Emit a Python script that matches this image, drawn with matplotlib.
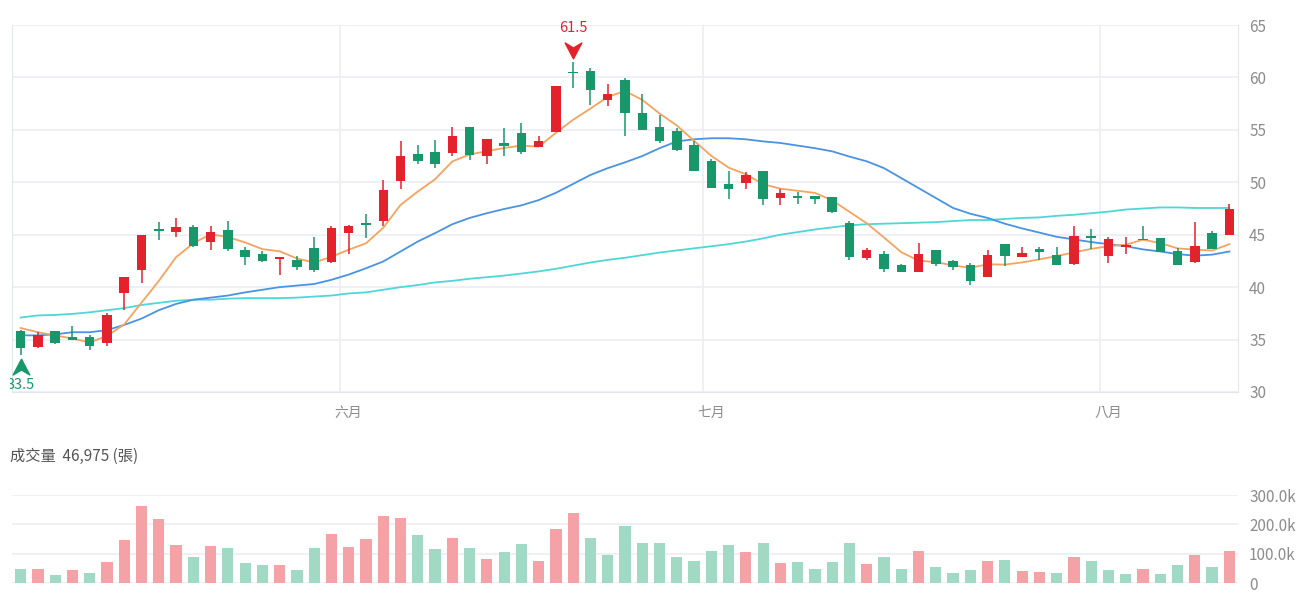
import matplotlib
matplotlib.use('Agg')
import matplotlib.pyplot as plt
import numpy as np
import pandas as pd
from matplotlib.path import Path
from matplotlib.transforms import Bbox

plt.rcParams['font.family'] = ['Noto Sans CJK TC', 'DejaVu Sans']

# daily OHLC
opens = [35.8, 34.3, 35.8, 35.2, 35.2, 34.65, 39.4, 41.65, 45.45, 45.3,
         45.7, 44.35, 45.45, 43.5, 43.2, 42.7, 42.55, 43.7, 42.4, 45.15,
         46.1, 46.3, 50.1, 52.7, 52.9, 52.8, 55.3, 52.5, 53.7, 54.7,
         53.4, 54.75, 60.55, 60.6, 57.8, 59.8, 56.65, 55.3, 54.85, 53.6,
         52.0, 49.8, 49.9, 51.1, 48.5, 48.7, 48.65, 48.6, 46.1, 42.8,
         43.2, 42.1, 41.4, 43.5, 42.5, 42.1, 41.0, 44.1, 42.9, 43.6,
         43.1, 42.2, 44.9, 43.0, 43.85, 44.6, 44.7, 43.45, 42.4, 45.2,
         45.0]
highs = [35.9, 35.7, 35.85, 36.3, 35.4, 37.5, 41.0, 45.0, 46.2, 46.6,
         45.95, 45.8, 46.3, 43.8, 43.4, 42.9, 43.0, 44.8, 45.8, 45.9,
         47.0, 50.2, 53.9, 53.6, 54.0, 55.3, 55.3, 54.15, 55.2, 55.7,
         54.4, 59.2, 61.5, 60.9, 59.4, 59.9, 58.4, 56.4, 55.2, 53.9,
         52.25, 51.1, 50.95, 51.1, 49.4, 49.1, 48.7, 48.6, 46.35, 43.75,
         43.4, 42.2, 44.2, 43.55, 42.6, 42.3, 43.5, 44.1, 43.8, 43.8,
         43.8, 45.8, 45.5, 44.8, 44.8, 45.85, 44.7, 43.7, 46.2, 45.4,
         47.9]
lows = [33.5, 34.15, 34.6, 34.95, 34.0, 34.35, 37.8, 40.4, 44.5, 44.8,
        43.85, 43.5, 43.4, 42.1, 42.4, 41.2, 41.65, 41.4, 42.3, 43.2,
        44.7, 45.8, 49.35, 51.7, 51.35, 52.5, 52.15, 51.7, 52.5, 52.7,
        53.4, 54.75, 59.0, 57.4, 57.3, 54.4, 55.0, 53.7, 52.95, 51.1,
        49.5, 48.4, 49.35, 47.8, 47.85, 47.95, 47.95, 47.1, 42.55, 42.6,
        41.4, 41.4, 41.4, 42.05, 41.65, 40.2, 41.0, 42.05, 42.9, 42.6,
        42.1, 42.1, 43.6, 42.3, 43.2, 44.45, 43.35, 42.1, 42.3, 43.6,
        45.0]
closes = [34.2, 35.45, 34.65, 35.0, 34.35, 37.3, 40.95, 45.0, 45.35, 45.7,
          43.9, 45.3, 43.6, 42.83, 42.5, 42.85, 41.9, 41.65, 45.6, 45.85,
          45.9, 49.3, 52.55, 52.0, 51.7, 54.4, 52.6, 54.15, 53.5, 52.85,
          53.9, 59.2, 60.4, 58.8, 58.45, 56.65, 55.0, 53.9, 53.1, 51.1,
          49.5, 49.4, 50.7, 48.4, 48.95, 48.5, 48.4, 47.15, 42.9, 43.5,
          41.7, 41.4, 43.15, 42.2, 41.9, 40.55, 43.1, 43.0, 43.25, 43.35,
          42.1, 44.9, 44.65, 44.55, 44.05, 44.45, 43.35, 42.1, 43.95, 43.6,
          47.5]
# volume in k
volumes = [47, 49, 28, 43, 34, 71, 148, 263, 217, 128,
           89, 127, 120, 69, 62, 60, 46, 118, 166, 124,
           151, 230, 222, 162, 117, 154, 118, 82, 107, 133,
           74, 184, 237, 152, 97, 193, 138, 138, 90, 75,
           108, 129, 104, 136, 67, 71, 47, 72, 136, 65,
           87, 49, 109, 56, 33, 45, 76, 79, 42, 37,
           34, 88, 75, 44, 31, 49, 29, 60, 96, 55,
           108]
ma5_head = [36.1, 35.7, 35.4, 35.1]
ma20 = [35.4, 35.4, 35.5, 35.7, 35.7, 35.9, 36.4, 37.0, 37.8, 38.4,
        38.8, 39.0, 39.2, 39.5, 39.75, 40.0, 40.15, 40.3, 40.7, 41.2,
        41.8, 42.45, 43.4, 44.35, 45.15, 46.0, 46.6, 47.05, 47.45, 47.8,
        48.3, 49.0, 49.85, 50.7, 51.35, 51.9, 52.5, 53.25, 53.9, 54.1,
        54.2, 54.2, 54.1, 53.9, 53.75, 53.5, 53.25, 52.95, 52.45, 52.0,
        51.35, 50.4, 49.45, 48.5, 47.55, 47.0, 46.6, 46.05, 45.6, 45.2,
        44.8, 44.55, 44.3, 44.1, 43.9, 43.6, 43.4, 43.15, 43.0, 43.1,
        43.4]
ma60 = [37.1, 37.3, 37.35, 37.45, 37.6, 37.8, 38.0, 38.3, 38.5, 38.7,
        38.8, 38.8, 38.9, 38.95, 38.95, 38.95, 39.0, 39.1, 39.2, 39.4,
        39.5, 39.75, 40.0, 40.2, 40.45, 40.6, 40.8, 40.95, 41.1, 41.3,
        41.5, 41.75, 42.05, 42.35, 42.6, 42.8, 43.05, 43.3, 43.5, 43.7,
        43.9, 44.1, 44.35, 44.65, 45.0, 45.25, 45.5, 45.7, 45.9, 46.0,
        46.05, 46.1, 46.15, 46.2, 46.3, 46.4, 46.4, 46.5, 46.6, 46.65,
        46.8, 46.9, 47.05, 47.2, 47.4, 47.5, 47.6, 47.6, 47.55, 47.55,
        47.55]
month_labels = ['六月', '七月', '八月']
month_starts = [19, 40, 63]
vol_title = '成交量  46,975 (張)'

RED = '#e3222b'
GREEN = '#17976a'
VRED = '#f4a2a5'
VGREEN = '#a0d9c4'
GRID = '#eceef4'
TXT = '#8c8c8c'

o = np.array(opens); c = np.array(closes)
h = np.array(highs); l = np.array(lows)
x = np.arange(len(o))
up = c >= o
ma5 = pd.Series(c).rolling(5).mean().to_numpy()
ma5[:4] = ma5_head

fig = plt.figure(figsize=(13, 6), dpi=100)
ax = fig.add_axes([12/1300, 1-392/600, 1226/1300, 367/600])
axv = fig.add_axes([12/1300, 1-583/600, 1226/1300, 88/600])

# price panel
ax.set_xlim(-0.5, len(x) - 0.5)
ax.set_ylim(30, 65)
ax.set_yticks(range(30, 66, 5))
ax.yaxis.tick_right()
ax.grid(axis='y', color=GRID, lw=1.2)
for m in month_starts:
    ax.axvline(m - 0.5, color=GRID, lw=1.2, zorder=0)
ax.set_xticks(month_starts)
ax.set_xticklabels(month_labels)
ax.tick_params(length=0, colors=TXT)
ax.tick_params(axis='y', pad=8, labelsize=11)
ax.tick_params(axis='x', pad=10, labelsize=10)
ax.set_axisbelow(True)
for s in ['left', 'right', 'bottom']:
    ax.spines[s].set_color('#e3e6ec')
ax.spines['top'].set_visible(False)

ax.plot(x, ma60, color='#4fd6d6', lw=1.3, zorder=2)
ax.plot(x, ma20, color='#4a93e0', lw=1.3, zorder=2)
ax.plot(x, ma5, color='#f5a35e', lw=1.3, zorder=2)

cols = np.where(up, RED, GREEN)
ax.vlines(x, l, h, colors=cols, lw=1.1, zorder=3)
body = np.maximum(np.abs(c - o), 0.15)
ax.bar(x, body, bottom=np.minimum(o, c), width=0.55, color=cols, zorder=4)

# high / low markers
arrow = Path([(0, -1), (-1, 0.9), (0, 0.3), (1, 0.9), (0, -1)],
             [Path.MOVETO, Path.LINETO, Path.LINETO, Path.LINETO, Path.CLOSEPOLY])
arrow_up = Path([(0, 1), (-1, -0.9), (0, -0.3), (1, -0.9), (0, 1)],
                [Path.MOVETO, Path.LINETO, Path.LINETO, Path.LINETO, Path.CLOSEPOLY])
ih = int(np.argmax(h)); il = int(np.argmin(l))
ax.plot(ih, h[ih] + 1.1, marker=arrow, color=RED, ms=12, zorder=5)
ax.text(ih, h[ih] + 3.2, f'{h[ih]:.1f}', color=RED, ha='center', va='center', fontsize=10.5)
ax.plot(il, l[il] - 1.15, marker=arrow_up, color=GREEN, ms=12, zorder=5, clip_on=False)
t = ax.text(il, l[il] - 2.8, f'{l[il]:.1f}', color=GREEN, ha='center', va='center',
            fontsize=10.5, clip_on=True)
t.set_clip_box(Bbox.from_extents(10, 0, 1300, 600))

# volume panel
vup = np.r_[c[0] >= o[0], c[1:] >= c[:-1]]
axv.bar(x, volumes, width=0.65, color=np.where(vup, VRED, VGREEN), zorder=3)
axv.set_xlim(-0.5, len(x) - 0.5)
axv.set_ylim(0, 300)
axv.set_yticks([0, 100, 200, 300])
axv.set_yticklabels(['0', '100.0k', '200.0k', '300.0k'])
axv.yaxis.tick_right()
axv.set_xticks([])
axv.grid(axis='y', color=GRID, lw=1.2)
axv.tick_params(length=0, labelsize=11, colors=TXT, pad=8)
for s in axv.spines.values():
    s.set_visible(False)

fig.text(10/1300, 1-456/600, vol_title, fontsize=11, color='#555555', va='center')

fig.savefig('out.png', dpi=100)
